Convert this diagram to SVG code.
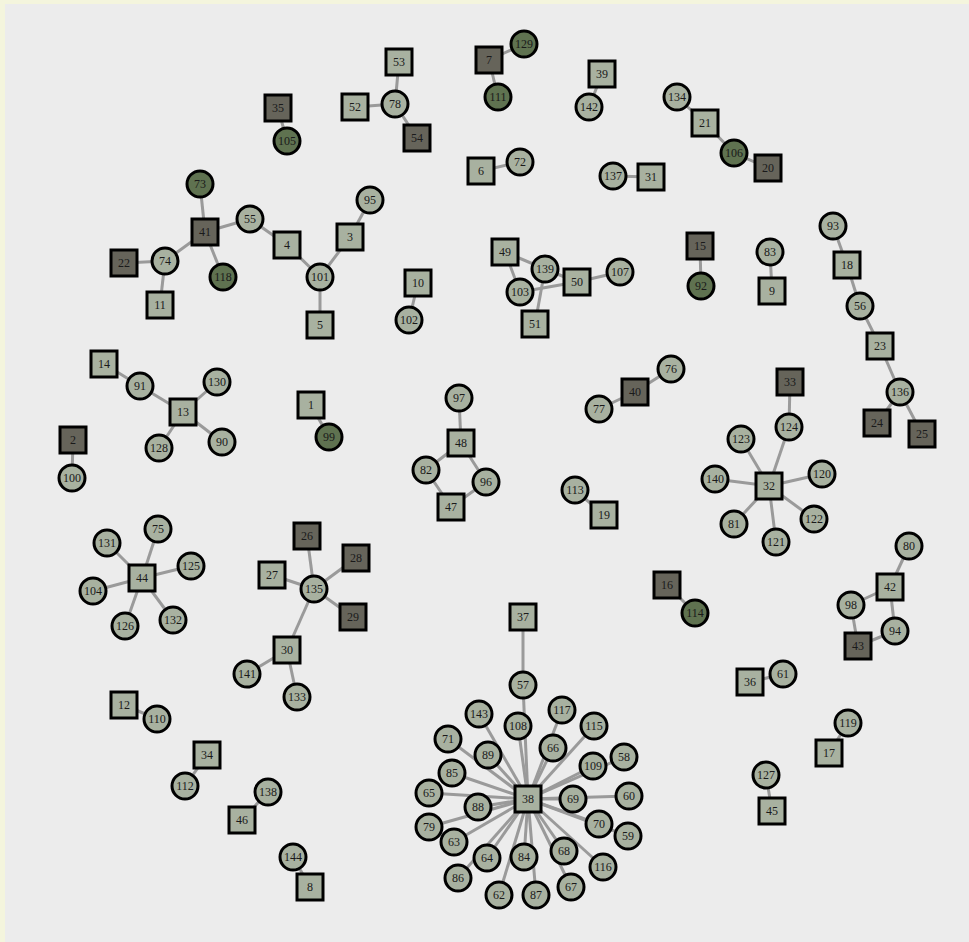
<svg xmlns="http://www.w3.org/2000/svg" width="969" height="942" viewBox="0 0 969 942">
<style>
.e line{stroke:#9a9a9a;stroke-width:3}
.sq{stroke:#000;stroke-width:3}
.ci{stroke:#000;stroke-width:3}
.L{fill:#a8b1a0}
.D{fill:#66645a}
.G{fill:#5f7250}
text{font-family:"Liberation Serif","DejaVu Serif",serif;font-size:12px;fill:#1a1a1a;text-anchor:middle;dominant-baseline:central}
</style>
<rect x="0" y="0" width="969" height="942" fill="#f4f5dd"/>
<rect x="5" y="4" width="964" height="938" fill="#ececec"/>
<g class="e" id="connectors">
<line x1="200" y1="184" x2="205" y2="232"/>
<line x1="205" y1="232" x2="250" y2="219"/>
<line x1="250" y1="219" x2="287" y2="245"/>
<line x1="287" y1="245" x2="320" y2="277"/>
<line x1="205" y1="232" x2="165" y2="261"/>
<line x1="205" y1="232" x2="223" y2="277"/>
<line x1="124" y1="263" x2="165" y2="261"/>
<line x1="165" y1="261" x2="160" y2="305"/>
<line x1="278" y1="108" x2="287" y2="141"/>
<line x1="399" y1="62" x2="395" y2="104"/>
<line x1="355" y1="107" x2="395" y2="104"/>
<line x1="395" y1="104" x2="417" y2="138"/>
<line x1="489" y1="60" x2="524" y2="44"/>
<line x1="489" y1="60" x2="498" y2="97"/>
<line x1="602" y1="74" x2="589" y2="107"/>
<line x1="481" y1="171" x2="520" y2="162"/>
<line x1="613" y1="176" x2="651" y2="177"/>
<line x1="370" y1="200" x2="350" y2="237"/>
<line x1="350" y1="237" x2="320" y2="277"/>
<line x1="320" y1="277" x2="320" y2="325"/>
<line x1="418" y1="283" x2="409" y2="320"/>
<line x1="505" y1="252" x2="545" y2="269"/>
<line x1="505" y1="252" x2="520" y2="292"/>
<line x1="545" y1="269" x2="577" y2="282"/>
<line x1="520" y1="292" x2="577" y2="282"/>
<line x1="545" y1="269" x2="535" y2="324"/>
<line x1="577" y1="282" x2="620" y2="272"/>
<line x1="677" y1="97" x2="705" y2="123"/>
<line x1="705" y1="123" x2="734" y2="153"/>
<line x1="734" y1="153" x2="768" y2="168"/>
<line x1="700" y1="246" x2="701" y2="286"/>
<line x1="770" y1="252" x2="772" y2="291"/>
<line x1="833" y1="226" x2="847" y2="265"/>
<line x1="847" y1="265" x2="860" y2="306"/>
<line x1="860" y1="306" x2="880" y2="346"/>
<line x1="880" y1="346" x2="900" y2="392"/>
<line x1="900" y1="392" x2="877" y2="423"/>
<line x1="900" y1="392" x2="922" y2="434"/>
<line x1="104" y1="364" x2="140" y2="386"/>
<line x1="140" y1="386" x2="183" y2="412"/>
<line x1="183" y1="412" x2="217" y2="382"/>
<line x1="183" y1="412" x2="159" y2="448"/>
<line x1="183" y1="412" x2="222" y2="442"/>
<line x1="73" y1="440" x2="72" y2="478"/>
<line x1="311" y1="405" x2="329" y2="437"/>
<line x1="142" y1="578" x2="158" y2="529"/>
<line x1="142" y1="578" x2="107" y2="543"/>
<line x1="142" y1="578" x2="191" y2="566"/>
<line x1="142" y1="578" x2="93" y2="591"/>
<line x1="142" y1="578" x2="125" y2="626"/>
<line x1="142" y1="578" x2="173" y2="620"/>
<line x1="307" y1="536" x2="314" y2="589"/>
<line x1="272" y1="575" x2="314" y2="589"/>
<line x1="314" y1="589" x2="356" y2="558"/>
<line x1="314" y1="589" x2="353" y2="617"/>
<line x1="314" y1="589" x2="287" y2="650"/>
<line x1="287" y1="650" x2="247" y2="674"/>
<line x1="287" y1="650" x2="297" y2="697"/>
<line x1="124" y1="705" x2="157" y2="719"/>
<line x1="207" y1="755" x2="185" y2="786"/>
<line x1="268" y1="792" x2="242" y2="820"/>
<line x1="293" y1="857" x2="310" y2="887"/>
<line x1="459" y1="398" x2="461" y2="443"/>
<line x1="461" y1="443" x2="426" y2="470"/>
<line x1="461" y1="443" x2="486" y2="482"/>
<line x1="426" y1="470" x2="451" y2="507"/>
<line x1="486" y1="482" x2="451" y2="507"/>
<line x1="635" y1="392" x2="599" y2="409"/>
<line x1="635" y1="392" x2="671" y2="369"/>
<line x1="575" y1="490" x2="604" y2="515"/>
<line x1="790" y1="382" x2="789" y2="427"/>
<line x1="789" y1="427" x2="769" y2="486"/>
<line x1="769" y1="486" x2="741" y2="439"/>
<line x1="769" y1="486" x2="715" y2="479"/>
<line x1="769" y1="486" x2="822" y2="474"/>
<line x1="769" y1="486" x2="814" y2="519"/>
<line x1="769" y1="486" x2="734" y2="524"/>
<line x1="769" y1="486" x2="776" y2="542"/>
<line x1="909" y1="546" x2="890" y2="587"/>
<line x1="890" y1="587" x2="851" y2="605"/>
<line x1="890" y1="587" x2="895" y2="631"/>
<line x1="851" y1="605" x2="858" y2="646"/>
<line x1="895" y1="631" x2="858" y2="646"/>
<line x1="667" y1="585" x2="695" y2="613"/>
<line x1="750" y1="682" x2="783" y2="674"/>
<line x1="848" y1="723" x2="829" y2="753"/>
<line x1="766" y1="775" x2="772" y2="811"/>
<line x1="523" y1="617" x2="523" y2="685"/>
<line x1="523" y1="685" x2="528" y2="799"/>
<line x1="528" y1="799" x2="479" y2="714"/>
<line x1="528" y1="799" x2="518" y2="726"/>
<line x1="528" y1="799" x2="562" y2="710"/>
<line x1="528" y1="799" x2="594" y2="726"/>
<line x1="528" y1="799" x2="448" y2="739"/>
<line x1="528" y1="799" x2="488" y2="755"/>
<line x1="528" y1="799" x2="553" y2="748"/>
<line x1="528" y1="799" x2="593" y2="766"/>
<line x1="528" y1="799" x2="624" y2="757"/>
<line x1="528" y1="799" x2="452" y2="773"/>
<line x1="528" y1="799" x2="429" y2="793"/>
<line x1="528" y1="799" x2="478" y2="807"/>
<line x1="528" y1="799" x2="573" y2="799"/>
<line x1="528" y1="799" x2="629" y2="796"/>
<line x1="528" y1="799" x2="429" y2="827"/>
<line x1="528" y1="799" x2="454" y2="842"/>
<line x1="528" y1="799" x2="599" y2="824"/>
<line x1="528" y1="799" x2="628" y2="836"/>
<line x1="528" y1="799" x2="487" y2="858"/>
<line x1="528" y1="799" x2="524" y2="857"/>
<line x1="528" y1="799" x2="564" y2="851"/>
<line x1="528" y1="799" x2="603" y2="867"/>
<line x1="528" y1="799" x2="458" y2="878"/>
<line x1="528" y1="799" x2="499" y2="895"/>
<line x1="528" y1="799" x2="536" y2="895"/>
<line x1="528" y1="799" x2="571" y2="887"/>
</g>
<g id="n1"><rect class="sq L" x="298" y="392" width="26" height="26"/><text x="311" y="405">1</text></g>
<g id="n2"><rect class="sq D" x="60" y="427" width="26" height="26"/><text x="73" y="440">2</text></g>
<g id="n3"><rect class="sq L" x="337" y="224" width="26" height="26"/><text x="350" y="237">3</text></g>
<g id="n4"><rect class="sq L" x="274" y="232" width="26" height="26"/><text x="287" y="245">4</text></g>
<g id="n5"><rect class="sq L" x="307" y="312" width="26" height="26"/><text x="320" y="325">5</text></g>
<g id="n6"><rect class="sq L" x="468" y="158" width="26" height="26"/><text x="481" y="171">6</text></g>
<g id="n7"><rect class="sq D" x="476" y="47" width="26" height="26"/><text x="489" y="60">7</text></g>
<g id="n8"><rect class="sq L" x="297" y="874" width="26" height="26"/><text x="310" y="887">8</text></g>
<g id="n9"><rect class="sq L" x="759" y="278" width="26" height="26"/><text x="772" y="291">9</text></g>
<g id="n10"><rect class="sq L" x="405" y="270" width="26" height="26"/><text x="418" y="283">10</text></g>
<g id="n11"><rect class="sq L" x="147" y="292" width="26" height="26"/><text x="160" y="305">11</text></g>
<g id="n12"><rect class="sq L" x="111" y="692" width="26" height="26"/><text x="124" y="705">12</text></g>
<g id="n13"><rect class="sq L" x="170" y="399" width="26" height="26"/><text x="183" y="412">13</text></g>
<g id="n14"><rect class="sq L" x="91" y="351" width="26" height="26"/><text x="104" y="364">14</text></g>
<g id="n15"><rect class="sq D" x="687" y="233" width="26" height="26"/><text x="700" y="246">15</text></g>
<g id="n16"><rect class="sq D" x="654" y="572" width="26" height="26"/><text x="667" y="585">16</text></g>
<g id="n17"><rect class="sq L" x="816" y="740" width="26" height="26"/><text x="829" y="753">17</text></g>
<g id="n18"><rect class="sq L" x="834" y="252" width="26" height="26"/><text x="847" y="265">18</text></g>
<g id="n19"><rect class="sq L" x="591" y="502" width="26" height="26"/><text x="604" y="515">19</text></g>
<g id="n20"><rect class="sq D" x="755" y="155" width="26" height="26"/><text x="768" y="168">20</text></g>
<g id="n21"><rect class="sq L" x="692" y="110" width="26" height="26"/><text x="705" y="123">21</text></g>
<g id="n22"><rect class="sq D" x="111" y="250" width="26" height="26"/><text x="124" y="263">22</text></g>
<g id="n23"><rect class="sq L" x="867" y="333" width="26" height="26"/><text x="880" y="346">23</text></g>
<g id="n24"><rect class="sq D" x="864" y="410" width="26" height="26"/><text x="877" y="423">24</text></g>
<g id="n25"><rect class="sq D" x="909" y="421" width="26" height="26"/><text x="922" y="434">25</text></g>
<g id="n26"><rect class="sq D" x="294" y="523" width="26" height="26"/><text x="307" y="536">26</text></g>
<g id="n27"><rect class="sq L" x="259" y="562" width="26" height="26"/><text x="272" y="575">27</text></g>
<g id="n28"><rect class="sq D" x="343" y="545" width="26" height="26"/><text x="356" y="558">28</text></g>
<g id="n29"><rect class="sq D" x="340" y="604" width="26" height="26"/><text x="353" y="617">29</text></g>
<g id="n30"><rect class="sq L" x="274" y="637" width="26" height="26"/><text x="287" y="650">30</text></g>
<g id="n31"><rect class="sq L" x="638" y="164" width="26" height="26"/><text x="651" y="177">31</text></g>
<g id="n32"><rect class="sq L" x="756" y="473" width="26" height="26"/><text x="769" y="486">32</text></g>
<g id="n33"><rect class="sq D" x="777" y="369" width="26" height="26"/><text x="790" y="382">33</text></g>
<g id="n34"><rect class="sq L" x="194" y="742" width="26" height="26"/><text x="207" y="755">34</text></g>
<g id="n35"><rect class="sq D" x="265" y="95" width="26" height="26"/><text x="278" y="108">35</text></g>
<g id="n36"><rect class="sq L" x="737" y="669" width="26" height="26"/><text x="750" y="682">36</text></g>
<g id="n37"><rect class="sq L" x="510" y="604" width="26" height="26"/><text x="523" y="617">37</text></g>
<g id="n38"><rect class="sq L" x="515" y="786" width="26" height="26"/><text x="528" y="799">38</text></g>
<g id="n39"><rect class="sq L" x="589" y="61" width="26" height="26"/><text x="602" y="74">39</text></g>
<g id="n40"><rect class="sq D" x="622" y="379" width="26" height="26"/><text x="635" y="392">40</text></g>
<g id="n41"><rect class="sq D" x="192" y="219" width="26" height="26"/><text x="205" y="232">41</text></g>
<g id="n42"><rect class="sq L" x="877" y="574" width="26" height="26"/><text x="890" y="587">42</text></g>
<g id="n43"><rect class="sq D" x="845" y="633" width="26" height="26"/><text x="858" y="646">43</text></g>
<g id="n44"><rect class="sq L" x="129" y="565" width="26" height="26"/><text x="142" y="578">44</text></g>
<g id="n45"><rect class="sq L" x="759" y="798" width="26" height="26"/><text x="772" y="811">45</text></g>
<g id="n46"><rect class="sq L" x="229" y="807" width="26" height="26"/><text x="242" y="820">46</text></g>
<g id="n47"><rect class="sq L" x="438" y="494" width="26" height="26"/><text x="451" y="507">47</text></g>
<g id="n48"><rect class="sq L" x="448" y="430" width="26" height="26"/><text x="461" y="443">48</text></g>
<g id="n49"><rect class="sq L" x="492" y="239" width="26" height="26"/><text x="505" y="252">49</text></g>
<g id="n50"><rect class="sq L" x="564" y="269" width="26" height="26"/><text x="577" y="282">50</text></g>
<g id="n51"><rect class="sq L" x="522" y="311" width="26" height="26"/><text x="535" y="324">51</text></g>
<g id="n52"><rect class="sq L" x="342" y="94" width="26" height="26"/><text x="355" y="107">52</text></g>
<g id="n53"><rect class="sq L" x="386" y="49" width="26" height="26"/><text x="399" y="62">53</text></g>
<g id="n54"><rect class="sq D" x="404" y="125" width="26" height="26"/><text x="417" y="138">54</text></g>
<g id="n55"><circle class="ci L" cx="250" cy="219" r="13"/><text x="250" y="219">55</text></g>
<g id="n56"><circle class="ci L" cx="860" cy="306" r="13"/><text x="860" y="306">56</text></g>
<g id="n57"><circle class="ci L" cx="523" cy="685" r="13"/><text x="523" y="685">57</text></g>
<g id="n58"><circle class="ci L" cx="624" cy="757" r="13"/><text x="624" y="757">58</text></g>
<g id="n59"><circle class="ci L" cx="628" cy="836" r="13"/><text x="628" y="836">59</text></g>
<g id="n60"><circle class="ci L" cx="629" cy="796" r="13"/><text x="629" y="796">60</text></g>
<g id="n61"><circle class="ci L" cx="783" cy="674" r="13"/><text x="783" y="674">61</text></g>
<g id="n62"><circle class="ci L" cx="499" cy="895" r="13"/><text x="499" y="895">62</text></g>
<g id="n63"><circle class="ci L" cx="454" cy="842" r="13"/><text x="454" y="842">63</text></g>
<g id="n64"><circle class="ci L" cx="487" cy="858" r="13"/><text x="487" y="858">64</text></g>
<g id="n65"><circle class="ci L" cx="429" cy="793" r="13"/><text x="429" y="793">65</text></g>
<g id="n66"><circle class="ci L" cx="553" cy="748" r="13"/><text x="553" y="748">66</text></g>
<g id="n67"><circle class="ci L" cx="571" cy="887" r="13"/><text x="571" y="887">67</text></g>
<g id="n68"><circle class="ci L" cx="564" cy="851" r="13"/><text x="564" y="851">68</text></g>
<g id="n69"><circle class="ci L" cx="573" cy="799" r="13"/><text x="573" y="799">69</text></g>
<g id="n70"><circle class="ci L" cx="599" cy="824" r="13"/><text x="599" y="824">70</text></g>
<g id="n71"><circle class="ci L" cx="448" cy="739" r="13"/><text x="448" y="739">71</text></g>
<g id="n72"><circle class="ci L" cx="520" cy="162" r="13"/><text x="520" y="162">72</text></g>
<g id="n73"><circle class="ci G" cx="200" cy="184" r="13"/><text x="200" y="184">73</text></g>
<g id="n74"><circle class="ci L" cx="165" cy="261" r="13"/><text x="165" y="261">74</text></g>
<g id="n75"><circle class="ci L" cx="158" cy="529" r="13"/><text x="158" y="529">75</text></g>
<g id="n76"><circle class="ci L" cx="671" cy="369" r="13"/><text x="671" y="369">76</text></g>
<g id="n77"><circle class="ci L" cx="599" cy="409" r="13"/><text x="599" y="409">77</text></g>
<g id="n78"><circle class="ci L" cx="395" cy="104" r="13"/><text x="395" y="104">78</text></g>
<g id="n79"><circle class="ci L" cx="429" cy="827" r="13"/><text x="429" y="827">79</text></g>
<g id="n80"><circle class="ci L" cx="909" cy="546" r="13"/><text x="909" y="546">80</text></g>
<g id="n81"><circle class="ci L" cx="734" cy="524" r="13"/><text x="734" y="524">81</text></g>
<g id="n82"><circle class="ci L" cx="426" cy="470" r="13"/><text x="426" y="470">82</text></g>
<g id="n83"><circle class="ci L" cx="770" cy="252" r="13"/><text x="770" y="252">83</text></g>
<g id="n84"><circle class="ci L" cx="524" cy="857" r="13"/><text x="524" y="857">84</text></g>
<g id="n85"><circle class="ci L" cx="452" cy="773" r="13"/><text x="452" y="773">85</text></g>
<g id="n86"><circle class="ci L" cx="458" cy="878" r="13"/><text x="458" y="878">86</text></g>
<g id="n87"><circle class="ci L" cx="536" cy="895" r="13"/><text x="536" y="895">87</text></g>
<g id="n88"><circle class="ci L" cx="478" cy="807" r="13"/><text x="478" y="807">88</text></g>
<g id="n89"><circle class="ci L" cx="488" cy="755" r="13"/><text x="488" y="755">89</text></g>
<g id="n90"><circle class="ci L" cx="222" cy="442" r="13"/><text x="222" y="442">90</text></g>
<g id="n91"><circle class="ci L" cx="140" cy="386" r="13"/><text x="140" y="386">91</text></g>
<g id="n92"><circle class="ci G" cx="701" cy="286" r="13"/><text x="701" y="286">92</text></g>
<g id="n93"><circle class="ci L" cx="833" cy="226" r="13"/><text x="833" y="226">93</text></g>
<g id="n94"><circle class="ci L" cx="895" cy="631" r="13"/><text x="895" y="631">94</text></g>
<g id="n95"><circle class="ci L" cx="370" cy="200" r="13"/><text x="370" y="200">95</text></g>
<g id="n96"><circle class="ci L" cx="486" cy="482" r="13"/><text x="486" y="482">96</text></g>
<g id="n97"><circle class="ci L" cx="459" cy="398" r="13"/><text x="459" y="398">97</text></g>
<g id="n98"><circle class="ci L" cx="851" cy="605" r="13"/><text x="851" y="605">98</text></g>
<g id="n99"><circle class="ci G" cx="329" cy="437" r="13"/><text x="329" y="437">99</text></g>
<g id="n100"><circle class="ci L" cx="72" cy="478" r="13"/><text x="72" y="478">100</text></g>
<g id="n101"><circle class="ci L" cx="320" cy="277" r="13"/><text x="320" y="277">101</text></g>
<g id="n102"><circle class="ci L" cx="409" cy="320" r="13"/><text x="409" y="320">102</text></g>
<g id="n103"><circle class="ci L" cx="520" cy="292" r="13"/><text x="520" y="292">103</text></g>
<g id="n104"><circle class="ci L" cx="93" cy="591" r="13"/><text x="93" y="591">104</text></g>
<g id="n105"><circle class="ci G" cx="287" cy="141" r="13"/><text x="287" y="141">105</text></g>
<g id="n106"><circle class="ci G" cx="734" cy="153" r="13"/><text x="734" y="153">106</text></g>
<g id="n107"><circle class="ci L" cx="620" cy="272" r="13"/><text x="620" y="272">107</text></g>
<g id="n108"><circle class="ci L" cx="518" cy="726" r="13"/><text x="518" y="726">108</text></g>
<g id="n109"><circle class="ci L" cx="593" cy="766" r="13"/><text x="593" y="766">109</text></g>
<g id="n110"><circle class="ci L" cx="157" cy="719" r="13"/><text x="157" y="719">110</text></g>
<g id="n111"><circle class="ci G" cx="498" cy="97" r="13"/><text x="498" y="97">111</text></g>
<g id="n112"><circle class="ci L" cx="185" cy="786" r="13"/><text x="185" y="786">112</text></g>
<g id="n113"><circle class="ci L" cx="575" cy="490" r="13"/><text x="575" y="490">113</text></g>
<g id="n114"><circle class="ci G" cx="695" cy="613" r="13"/><text x="695" y="613">114</text></g>
<g id="n115"><circle class="ci L" cx="594" cy="726" r="13"/><text x="594" y="726">115</text></g>
<g id="n116"><circle class="ci L" cx="603" cy="867" r="13"/><text x="603" y="867">116</text></g>
<g id="n117"><circle class="ci L" cx="562" cy="710" r="13"/><text x="562" y="710">117</text></g>
<g id="n118"><circle class="ci G" cx="223" cy="277" r="13"/><text x="223" y="277">118</text></g>
<g id="n119"><circle class="ci L" cx="848" cy="723" r="13"/><text x="848" y="723">119</text></g>
<g id="n120"><circle class="ci L" cx="822" cy="474" r="13"/><text x="822" y="474">120</text></g>
<g id="n121"><circle class="ci L" cx="776" cy="542" r="13"/><text x="776" y="542">121</text></g>
<g id="n122"><circle class="ci L" cx="814" cy="519" r="13"/><text x="814" y="519">122</text></g>
<g id="n123"><circle class="ci L" cx="741" cy="439" r="13"/><text x="741" y="439">123</text></g>
<g id="n124"><circle class="ci L" cx="789" cy="427" r="13"/><text x="789" y="427">124</text></g>
<g id="n125"><circle class="ci L" cx="191" cy="566" r="13"/><text x="191" y="566">125</text></g>
<g id="n126"><circle class="ci L" cx="125" cy="626" r="13"/><text x="125" y="626">126</text></g>
<g id="n127"><circle class="ci L" cx="766" cy="775" r="13"/><text x="766" y="775">127</text></g>
<g id="n128"><circle class="ci L" cx="159" cy="448" r="13"/><text x="159" y="448">128</text></g>
<g id="n129"><circle class="ci G" cx="524" cy="44" r="13"/><text x="524" y="44">129</text></g>
<g id="n130"><circle class="ci L" cx="217" cy="382" r="13"/><text x="217" y="382">130</text></g>
<g id="n131"><circle class="ci L" cx="107" cy="543" r="13"/><text x="107" y="543">131</text></g>
<g id="n132"><circle class="ci L" cx="173" cy="620" r="13"/><text x="173" y="620">132</text></g>
<g id="n133"><circle class="ci L" cx="297" cy="697" r="13"/><text x="297" y="697">133</text></g>
<g id="n134"><circle class="ci L" cx="677" cy="97" r="13"/><text x="677" y="97">134</text></g>
<g id="n135"><circle class="ci L" cx="314" cy="589" r="13"/><text x="314" y="589">135</text></g>
<g id="n136"><circle class="ci L" cx="900" cy="392" r="13"/><text x="900" y="392">136</text></g>
<g id="n137"><circle class="ci L" cx="613" cy="176" r="13"/><text x="613" y="176">137</text></g>
<g id="n138"><circle class="ci L" cx="268" cy="792" r="13"/><text x="268" y="792">138</text></g>
<g id="n139"><circle class="ci L" cx="545" cy="269" r="13"/><text x="545" y="269">139</text></g>
<g id="n140"><circle class="ci L" cx="715" cy="479" r="13"/><text x="715" y="479">140</text></g>
<g id="n141"><circle class="ci L" cx="247" cy="674" r="13"/><text x="247" y="674">141</text></g>
<g id="n142"><circle class="ci L" cx="589" cy="107" r="13"/><text x="589" y="107">142</text></g>
<g id="n143"><circle class="ci L" cx="479" cy="714" r="13"/><text x="479" y="714">143</text></g>
<g id="n144"><circle class="ci L" cx="293" cy="857" r="13"/><text x="293" y="857">144</text></g>
</svg>
